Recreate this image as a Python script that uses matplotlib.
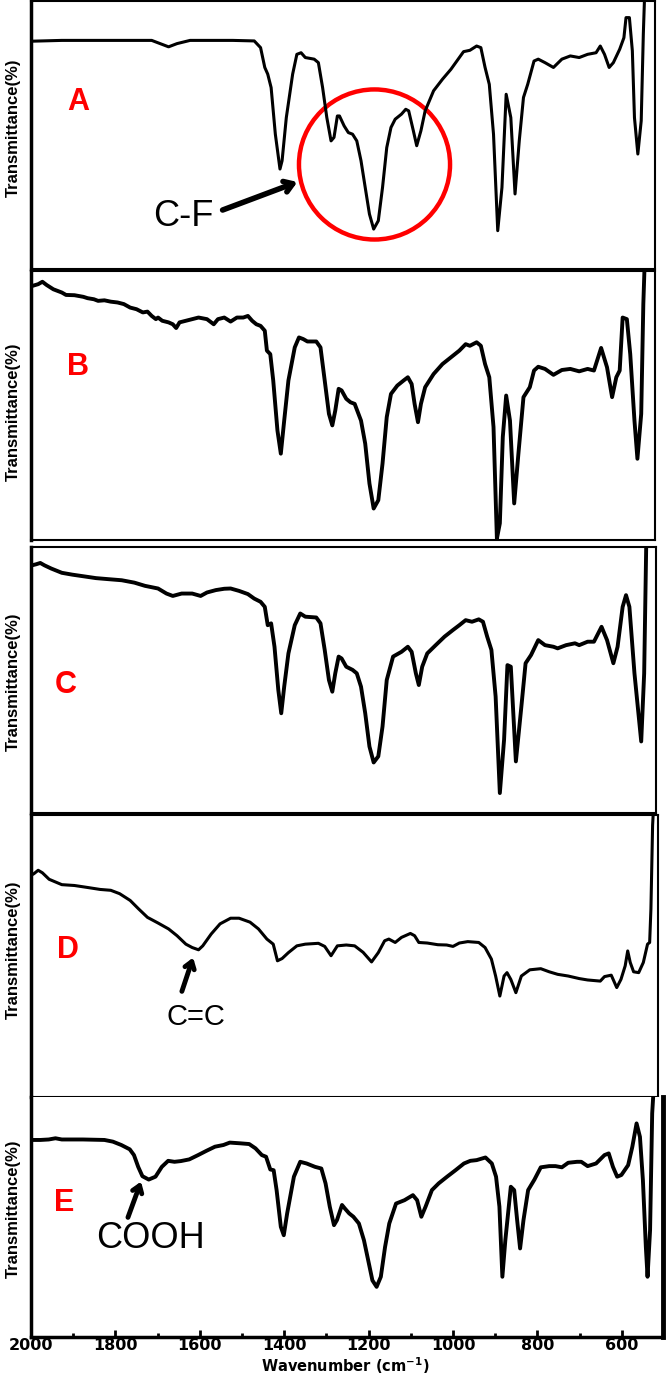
import matplotlib
matplotlib.use("Agg")
import matplotlib.pyplot as plt
from matplotlib.patches import Ellipse

plt.rcParams["mathtext.default"] = "bf"

# FTIR spectra (wavenumber in cm-1, transmittance in % of panel height)
wn_a = [1998, 1927, 1826, 1714, 1694, 1674, 1654, 1623, 1522, 1471, 1456, 1446, 1439, 1431, 1421,
        1410, 1405, 1395, 1380, 1370, 1360, 1350, 1329, 1319, 1309, 1299, 1289, 1282, 1274, 1269,
        1258, 1248, 1238, 1228, 1218, 1208, 1198, 1188, 1177, 1167, 1157, 1147, 1137, 1122, 1112,
        1105, 1094, 1086, 1076, 1066, 1046, 1025, 1005, 985, 975, 960, 944, 934, 924, 914,
        904, 894, 884, 874, 863, 853, 843, 833, 823, 808, 798, 782, 762, 742, 722,
        701, 681, 661, 651, 641, 630, 620, 605, 595, 590, 582, 575, 570, 562, 554, 549, 546]
tr_a = [85, 85.3, 85.3, 85.3, 84.1, 82.9, 84.1, 85.3, 85.3, 85.1, 82.6, 75.2, 72.7, 67.7, 50.3,
        37.3, 40.4, 56.5, 72.7, 80.1, 80.7, 78.9, 78.3, 77.0, 67.7, 56.5, 47.8, 49.1, 57.1, 57.1,
        53.4, 50.9, 50.3, 47.8, 40.4, 30.4, 20.5, 14.9, 18.0, 30.4, 45.3, 52.8, 55.9, 57.8, 59.6,
        59.0, 51.6, 46.0, 51.6, 59.0, 66.5, 70.8, 74.5, 78.9, 81.1, 81.6, 83.2, 82.6, 75.2, 68.9,
        50.3, 14.3, 30.4, 65.2, 56.5, 28.0, 47.8, 64.0, 68.9, 77.6, 78.3, 77.0, 75.2, 78.3, 79.5,
        78.9, 80.1, 80.7, 83.2, 80.1, 75.2, 77.0, 82.0, 86.3, 93.8, 93.8, 81.4, 56.5, 42.9, 55.3, 87.6, 102]

wn_b = [1998, 1983, 1973, 1963, 1947, 1927, 1917, 1897, 1876, 1866,
        1851, 1841, 1826, 1811, 1795, 1780, 1765, 1750, 1735, 1724,
        1714, 1704, 1699, 1689, 1674, 1664, 1656, 1648, 1633, 1618,
        1603, 1583, 1567, 1557, 1542, 1527, 1512, 1497, 1486, 1476,
        1466, 1456, 1446, 1441, 1433, 1426, 1416, 1408, 1400, 1390,
        1375, 1365, 1355, 1345, 1324, 1314, 1304, 1294, 1286, 1279,
        1271, 1264, 1253, 1243, 1233, 1218, 1208, 1198, 1188, 1177,
        1167, 1157, 1147, 1132, 1117, 1107, 1098, 1091, 1083, 1076,
        1066, 1046, 1025, 1005, 985, 970, 960, 944, 934, 924,
        914, 904, 896, 889, 882, 874, 865, 855, 845, 833,
        818, 808, 798, 782, 762, 742, 722, 701, 681, 666,
        649, 635, 623, 613, 605, 598, 588, 580, 570, 563,
        554, 549, 546]
tr_b = [94.4, 95.1, 96.0, 94.8, 93.2, 92.0, 91.1, 91.0, 90.4, 89.9,
        89.5, 88.9, 89.1, 88.6, 88.3, 87.7, 86.4, 85.8, 84.6, 84.9,
        83.3, 82.1, 82.7, 81.5, 80.9, 80.2, 78.8, 80.9, 81.5, 82.1,
        82.7, 82.1, 80.2, 82.1, 82.7, 81.2, 82.7, 82.7, 83.3, 81.5,
        80.2, 79.6, 77.8, 70.4, 69.1, 59.3, 40.7, 32.1, 44.4, 59.3,
        71.6, 75.3, 74.7, 73.8, 73.8, 71.6, 59.3, 46.9, 42.6, 48.1,
        56.2, 55.6, 52.5, 51.2, 50.6, 44.4, 35.8, 21.0, 11.7, 14.8,
        28.4, 45.7, 54.3, 57.4, 59.3, 60.5, 58.0, 50.6, 43.8, 50.6,
        56.8, 61.7, 65.4, 67.9, 70.4, 72.8, 72.2, 73.5, 72.2, 65.4,
        60.5, 42.0, 0.5, 6.2, 38.3, 53.7, 44.4, 13.6, 32.1, 53.1,
        56.8, 63.0, 64.4, 63.6, 61.4, 63.2, 63.6, 62.7, 63.6, 63.0,
        71.4, 64.2, 53.1, 60.5, 63.0, 82.7, 82.1, 69.1, 44.4, 30.2,
        46.9, 87.7, 102]

wn_c = [1998, 1988, 1978, 1968, 1952, 1927, 1902, 1876, 1846, 1816,
        1785, 1755, 1730, 1699, 1679, 1664, 1643, 1618, 1598, 1583,
        1562, 1542, 1527, 1507, 1486, 1471, 1456, 1446, 1439, 1431,
        1423, 1414, 1407, 1400, 1390, 1375, 1362, 1350, 1324, 1314,
        1304, 1294, 1286, 1279, 1271, 1264, 1253, 1238, 1228, 1218,
        1208, 1198, 1188, 1177, 1167, 1157, 1142, 1122, 1107, 1098,
        1088, 1081, 1073, 1061, 1041, 1020, 1000, 985, 970, 955,
        939, 929, 919, 909, 899, 889, 879, 871, 863, 851,
        838, 828, 815, 798, 782, 762, 752, 732, 711, 701,
        681, 666, 648, 635, 620, 610, 598, 590, 582, 570,
        554, 547, 542]
tr_c = [93.1, 93.5, 94.0, 93.1, 91.9, 90.3, 89.6, 89.0, 88.3, 87.9,
        87.5, 86.6, 85.4, 84.4, 82.5, 81.6, 82.5, 82.5, 81.6, 82.9,
        83.8, 84.3, 84.4, 83.5, 82.3, 80.6, 79.4, 77.5, 70.6, 71.3,
        62.5, 46.3, 37.5, 47.5, 60.0, 70.6, 75.0, 73.8, 73.5, 71.3,
        61.3, 50.0, 45.6, 52.5, 58.8, 58.1, 55.0, 53.8, 52.5, 47.5,
        37.5, 25.0, 19.0, 21.3, 32.5, 50.0, 58.8, 60.6, 62.5, 60.6,
        52.5, 48.1, 55.0, 60.0, 63.1, 66.3, 68.8, 70.6, 72.5, 71.9,
        72.8, 71.9, 66.3, 61.3, 43.8, 7.5, 27.5, 55.6, 55.0, 19.4,
        40.0, 56.3, 59.4, 65.0, 63.1, 62.5, 61.9, 63.1, 63.8, 63.1,
        64.4, 64.4, 70.0, 65.0, 56.3, 62.5, 77.5, 81.9, 77.5, 52.5,
        26.9, 52.5, 102]

wn_d = [2000, 1993, 1983, 1973, 1957, 1927, 1897, 1866, 1836, 1811,
        1790, 1765, 1745, 1724, 1699, 1674, 1654, 1633, 1618, 1603,
        1593, 1573, 1552, 1527, 1507, 1481, 1461, 1441, 1426, 1416,
        1405, 1390, 1370, 1350, 1319, 1304, 1289, 1274, 1253, 1233,
        1213, 1193, 1177, 1162, 1152, 1137, 1122, 1101, 1091, 1081,
        1061, 1036, 1015, 1000, 985, 965, 939, 924, 909, 899,
        889, 879, 872, 863, 851, 838, 818, 792, 772, 752,
        727, 701, 681, 651, 641, 625, 612, 602, 592, 586,
        580, 572, 560, 549, 539, 534, 531, 527, 525]
tr_d = [78.6, 79.2, 80.4, 79.5, 77.2, 75.3, 75.0, 74.3, 73.6, 73.3,
        72.1, 69.7, 66.7, 63.7, 61.7, 59.6, 57.2, 54.2, 53.0, 52.2,
        53.6, 57.8, 61.4, 63.4, 63.4, 62.0, 59.6, 56.0, 54.2, 48.3,
        49.1, 51.2, 53.6, 54.2, 54.5, 53.4, 50.1, 53.6, 53.9, 53.6,
        51.3, 47.9, 51.2, 55.4, 56.0, 54.8, 56.6, 58.0, 57.2, 54.8,
        54.6, 54.0, 53.9, 53.4, 54.6, 55.1, 54.8, 53.0, 48.9, 42.9,
        35.8, 42.9, 44.1, 41.7, 37.0, 42.9, 45.1, 45.5, 44.4, 43.5,
        42.9, 42.0, 41.5, 41.1, 42.7, 43.2, 38.8, 41.7, 46.5, 51.8,
        47.7, 44.4, 44.1, 47.7, 54.2, 54.8, 66.7, 96.4, 102]

wn_e = [1998, 1978, 1958, 1942, 1927, 1877, 1826, 1806, 1786, 1766,
        1756, 1746, 1736, 1721, 1705, 1690, 1675, 1660, 1645, 1625,
        1604, 1584, 1564, 1544, 1529, 1504, 1483, 1468, 1453, 1443,
        1433, 1425, 1418, 1408, 1401, 1393, 1377, 1362, 1347, 1327,
        1312, 1302, 1292, 1282, 1275, 1263, 1256, 1246, 1236, 1223,
        1211, 1201, 1191, 1181, 1171, 1161, 1151, 1135, 1115, 1095,
        1085, 1075, 1065, 1050, 1034, 1014, 994, 974, 959, 944,
        923, 908, 898, 890, 883, 876, 863, 855, 848, 841,
        833, 822, 807, 792, 772, 757, 742, 727, 706, 696,
        681, 661, 641, 631, 621, 611, 601, 585, 575, 565,
        557, 550, 543, 539, 533, 528, 525]
tr_e = [82.1, 82.1, 82.3, 82.8, 82.3, 82.3, 82.1, 81.4, 80.0, 78.2,
        75.8, 70.9, 67.0, 65.6, 66.8, 70.9, 73.4, 73.0, 73.3, 74.0,
        75.8, 77.6, 79.3, 80.0, 81.0, 80.7, 80.4, 78.6, 75.8, 75.1,
        69.8, 69.5, 61.2, 45.9, 42.4, 51.5, 66.8, 73.0, 72.3, 70.9,
        70.2, 64.0, 54.3, 46.6, 48.7, 55.0, 53.5, 51.5, 50.1, 47.3,
        40.3, 32.0, 23.6, 20.9, 25.1, 37.5, 47.3, 55.6, 57.0, 59.1,
        57.0, 50.1, 54.3, 61.2, 64.0, 66.8, 69.5, 72.3, 73.4, 73.7,
        74.8, 72.3, 66.8, 54.3, 25.1, 40.3, 62.6, 61.2, 48.7, 36.9,
        48.7, 61.2, 65.6, 70.7, 71.2, 71.2, 70.7, 72.6, 73.0, 73.0,
        71.2, 72.3, 75.8, 76.5, 70.9, 66.8, 67.5, 71.6, 79.3, 89.0,
        83.4, 65.4, 37.5, 25.1, 44.5, 93.2, 102]

panel_letters = ["A", "B", "C", "D", "E"]
x_ticks = [2000, 1800, 1600, 1400, 1200, 1000, 800, 600]
x_minor = [1900, 1700, 1500, 1300, 1100, 900, 700]

W, H = 666, 1376
fig = plt.figure(figsize=(W / 100, H / 100), dpi=100)

LEFT = 31
PX_PER_WN = 0.422


def px_axes(left, top, right, bottom):
    return fig.add_axes([left / W, 1 - bottom / H, (right - left) / W, (bottom - top) / H])


def fp(x, y):
    # figure pixel (from top-left) -> figure fraction
    return (x / W, 1 - y / H)


# (data, top, bottom, right edge, line width, letter position, ylabel centre)
layout = [
    (wn_a, tr_a, 1, 269, 655, 2.2, (78, 102), 128),
    (wn_b, tr_b, 271, 540, 655, 2.8, (78, 367), 412),
    (wn_c, tr_c, 547, 813, 656, 2.8, (66, 685), 682),
    (wn_d, tr_d, 815, 1097, 658, 2.2, (68, 950), 950),
    (wn_e, tr_e, 1097, 1337, 663, 2.8, (64, 1203), 1209),
]

axes = []
for i, (wn, tr, top, bot, right, lw, lpos, ylc) in enumerate(layout):
    ax = px_axes(LEFT, top, right, bot)
    ax.plot(wn, tr, color="black", lw=lw, solid_joinstyle="round", solid_capstyle="round")
    ax.set_xlim(2000, 2000 - (right - LEFT) / PX_PER_WN)
    ax.set_ylim(0, 100)
    ax.set_yticks([])
    for s in ax.spines.values():
        s.set_linewidth(1.5)
    ax.spines["left"].set_linewidth(2.5)
    fig.text(*fp(*lpos), panel_letters[i], color="#ff0000", fontsize=22, fontweight="bold",
             family="Liberation Sans", ha="center", va="center")
    fig.text(*fp(13, ylc), "Transmittance(%)", rotation=90, fontsize=12, fontweight="bold",
             family="Liberation Sans", ha="center", va="center")
    axes.append(ax)

for ax in axes[:-1]:
    ax.set_xticks([])

ax_e = axes[-1]
ax_e.spines["top"].set_visible(False)
ax_e.spines["right"].set_linewidth(3.5)
ax_e.spines["bottom"].set_linewidth(2.5)
ax_e.set_xticks(x_ticks)
ax_e.set_xticks(x_minor, minor=True)
ax_e.tick_params(axis="x", which="major", direction="in", length=5, width=2, pad=1)
ax_e.tick_params(axis="x", which="minor", direction="in", length=3, width=2)
for lbl in ax_e.get_xticklabels():
    lbl.set_fontweight("bold")
    lbl.set_fontsize(11.5)
    lbl.set_family("DejaVu Sans")

fig.text(*fp(345, 1376), "Wavenumber (cm$^{-1}$)", fontsize=10.5, fontweight="bold",
         family="DejaVu Sans", ha="center", va="bottom")

# C-F band highlight in panel A
ax_a = axes[0]
ax_a.add_patch(Ellipse((1186, 39), 358, 56, fill=False, edgecolor="#ff0000", lw=3.2))
ax_a.annotate("", xy=fp(300, 181), xytext=fp(220, 211), xycoords="figure fraction",
              textcoords="figure fraction",
              arrowprops=dict(arrowstyle="->,head_length=0.6,head_width=0.4", lw=4, color="black"))
fig.text(*fp(183, 216), "C-F", fontsize=26, family="Liberation Sans", ha="center", va="center")

# C=C in panel D
axes[3].annotate("", xy=fp(194, 955), xytext=fp(181, 994), xycoords="figure fraction",
                 textcoords="figure fraction",
                 arrowprops=dict(arrowstyle="->,head_length=0.5,head_width=0.35", lw=3.5, color="black"))
fig.text(*fp(196, 1017), "C=C", fontsize=21, family="Liberation Sans", ha="center", va="center")

# COOH in panel E
ax_e.annotate("", xy=fp(142, 1179), xytext=fp(127, 1220), xycoords="figure fraction",
              textcoords="figure fraction",
              arrowprops=dict(arrowstyle="->,head_length=0.5,head_width=0.35", lw=3.5, color="black"))
fig.text(*fp(150, 1238), "COOH", fontsize=26, family="Liberation Sans", ha="center", va="center")

fig.savefig("out.png", dpi=100)
